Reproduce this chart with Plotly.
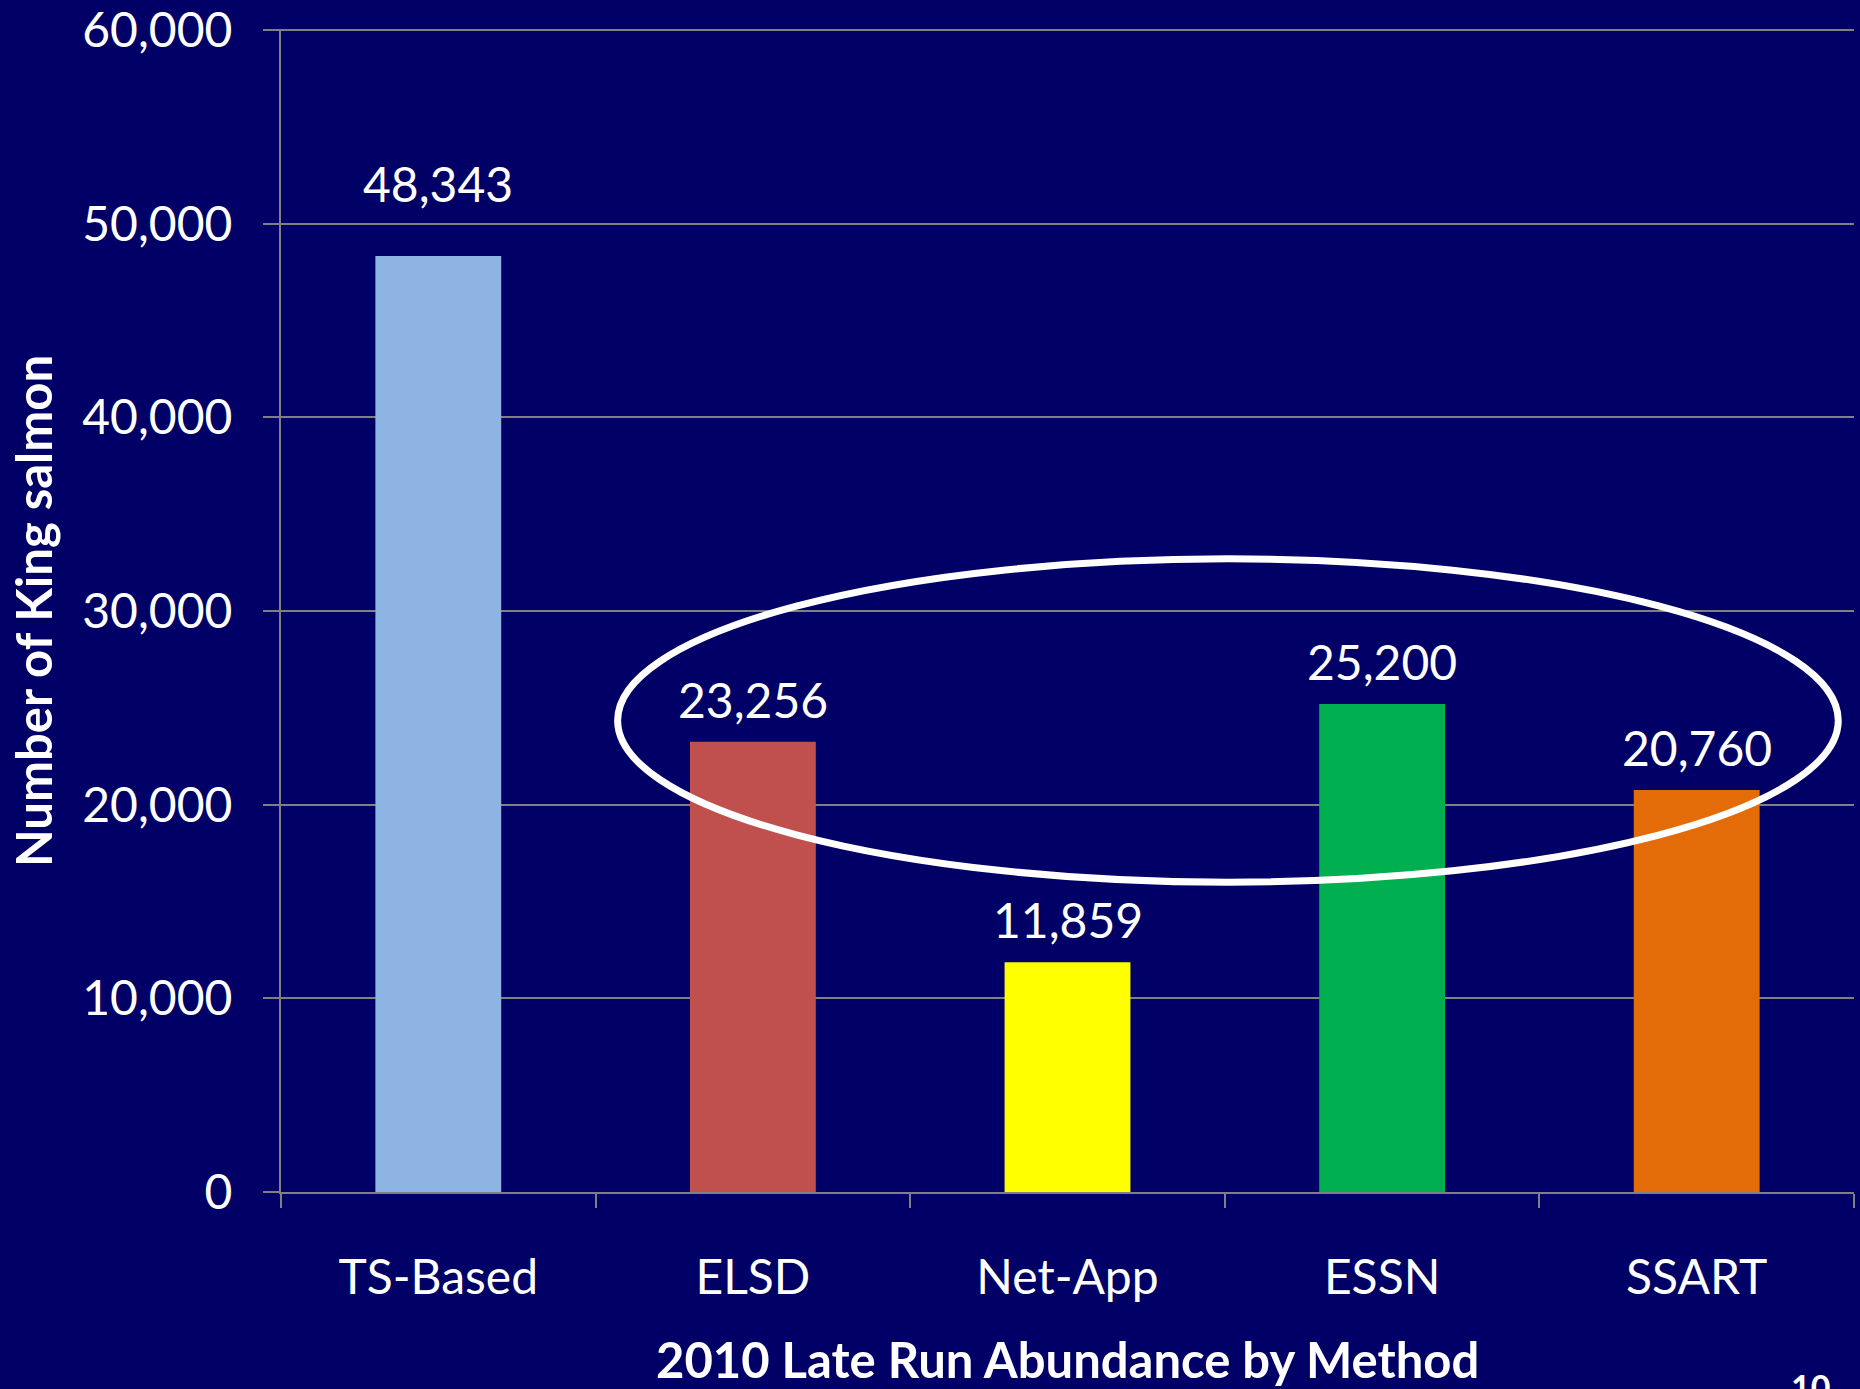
import plotly.graph_objects as go

# chart data
methods = ["TS-Based", "ELSD", "Net-App", "ESSN", "SSART"]
abundance = [48343, 23256, 11859, 25200, 20760]
bar_colors = ["#8DB4E2", "#C0504D", "#FFFF00", "#00B050", "#E36C09"]
y_ticks = [0, 10000, 20000, 30000, 40000, 50000, 60000]
y_tick_labels = ["0", "10,000", "20,000", "30,000", "40,000", "50,000", "60,000"]

BG = "#000066"
FONT = "Lato, 'Open Sans', sans-serif"

# the first label sits higher above its bar than the others
label_lift = {"TS-Based": 42}

fig = go.Figure()
fig.add_trace(go.Bar(
    x=methods,
    y=abundance,
    marker=dict(color=bar_colors, line=dict(width=0)),
    width=0.4,
    hoverinfo="x+y",
))

# value labels above the bars
for m, v in zip(methods, abundance):
    fig.add_annotation(x=m, y=v, text=f"{v:,}", showarrow=False,
                       yanchor="bottom", yshift=label_lift.get(m, 12),
                       font=dict(family=FONT, size=48, color="white"))

# the white ring around the last four bars
fig.add_shape(type="circle", xref="x", yref="y",
              x0=0.57, x1=4.45, y0=16000, y1=32700,
              line=dict(color="white", width=7), layer="above")

# axis titles
fig.add_annotation(xref="paper", yref="paper", x=0.5, y=-0.144,
                   yanchor="middle", showarrow=False,
                   text="<b>2010 Late Run Abundance by Method</b>",
                   font=dict(family=FONT, size=49, color="white"))
fig.add_annotation(xref="paper", yref="paper", x=-0.158, y=0.5,
                   xanchor="center", showarrow=False, textangle=-90,
                   text="<b>Number of King salmon</b>",
                   font=dict(family=FONT, size=49, color="white"))
# slide number, cut off at the bottom
fig.add_annotation(xref="paper", yref="paper", x=0.986, y=-0.148,
                   yanchor="top", showarrow=False, text="<b>10</b>",
                   font=dict(family=FONT, size=34, color="white"))

fig.update_layout(
    width=1860, height=1389,
    margin=dict(l=281, r=6, t=29, b=197, autoexpand=False),
    paper_bgcolor=BG, plot_bgcolor=BG,
    showlegend=False,
    font=dict(family=FONT, color="white"),
    xaxis=dict(
        showgrid=False, showline=True, linecolor="#808080", linewidth=2,
        ticks="outside", ticklen=14, tickcolor="#808080", tickwidth=2,
        tickson="boundaries", tickfont=dict(size=48, color="white"),
        ticklabelstandoff=42, automargin=False,
        range=[-0.5, 4.5],
    ),
    yaxis=dict(
        # a hair above 60,000 so the top grid line is still drawn
        range=[0, 60060], tickvals=y_ticks, ticktext=y_tick_labels,
        showgrid=True, gridcolor="#808080", gridwidth=2,
        showline=True, linecolor="#808080", linewidth=2,
        ticks="outside", ticklen=16, tickcolor="#808080", tickwidth=2,
        tickfont=dict(size=48, color="white"),
        ticklabelstandoff=21, ticklabeloverflow="allow", automargin=False,
        zeroline=False,
    ),
)

# drop the page's default body margin so the chart fills the window
fig.write_html("out.html", config={"displayModeBar": False},
               post_script="document.body.style.margin='0';")
